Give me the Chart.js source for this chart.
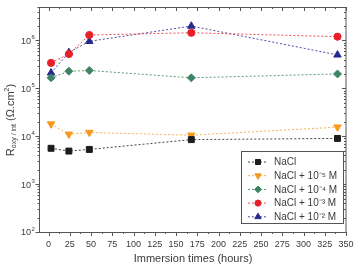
<!DOCTYPE html>
<html>
<head>
<meta charset="utf-8">
<script src="https://cdn.jsdelivr.net/npm/chart.js@4/dist/chart.umd.min.js"></script>
<style>
  html, body { margin: 0; padding: 0; background: #fff; }
  #wrap { width: 356px; height: 265px; }
</style>
</head>
<body>
<div id="wrap"><canvas id="c"></canvas></div>
<script>
// values
const hours = [3, 24, 48, 168, 340];
const nacl    = [5600, 4900, 5300, 8500, 9000];
const nacl1e5 = [18000, 11000, 12000, 10500, 15500];
const nacl1e4 = [166000, 228000, 236000, 166000, 200000];
const nacl1e3 = [340000, 520000, 1300000, 1450000, 1200000];
const nacl1e2 = [210000, 560000, 960000, 2000000, 500000];

const seriesNames = ['NaCl', 'NaCl + 10⁻⁵ M', 'NaCl + 10⁻⁴ M', 'NaCl + 10⁻³ M', 'NaCl + 10⁻² M'];
const xTicks = [0, 25, 50, 75, 100, 125, 150, 175, 200, 225, 250, 275, 300, 325, 350];
const yExps = [2, 3, 4, 5, 6];

const FONT = '"Liberation Sans", Arial, sans-serif';
const TXT = '#3a3a3a';

function ds(label, data, color, lineColor, style, rot, r) {
  return {
    label: label, data: data.map((v, i) => ({ x: hours[i], y: v })),
    borderColor: lineColor, backgroundColor: color,
    pointBackgroundColor: color, pointBorderColor: color,
    pointStyle: style, pointRotation: rot, pointRadius: r, pointBorderWidth: 1,
    borderWidth: 1, borderDash: [2, 2], tension: 0
  };
}

// frame, ticks, tick labels, titles, legend
const decor = {
  id: 'decor',
  afterDraw(chart) {
    const ctx = chart.ctx, a = chart.chartArea;
    const xs = chart.scales.x, ys = chart.scales.y;
    ctx.save();
    ctx.strokeStyle = '#555';
    ctx.lineWidth = 1;
    ctx.strokeRect(a.left - 0.5, a.top + 0.5, a.right - a.left + 0.5, a.bottom - a.top);

    ctx.beginPath();
    // x ticks: major at labels, minor halfway
    xTicks.forEach(v => {
      const px = Math.round(xs.getPixelForValue(v)) + 0.5;
      ctx.moveTo(px, a.bottom); ctx.lineTo(px, a.bottom + 4);
      ctx.moveTo(px, a.top); ctx.lineTo(px, a.top + 4);
      if (v < 350) {
        const pm = Math.round(xs.getPixelForValue(v + 12.5)) + 0.5;
        ctx.moveTo(pm, a.bottom); ctx.lineTo(pm, a.bottom + 2);
        ctx.moveTo(pm, a.top); ctx.lineTo(pm, a.top + 2);
      }
    });
    // y ticks: decades and minor
    for (let e = 2; e <= 6; e++) {
      for (let m = 1; m <= 9; m++) {
        const v = m * Math.pow(10, e);
        if (v > ys.max) break;
        const py = Math.round(ys.getPixelForValue(v)) + 0.5;
        const len = m === 1 ? 4 : 2;
        ctx.moveTo(a.left - 0.5, py); ctx.lineTo(a.left - 0.5 - len, py);
        ctx.moveTo(a.right, py); ctx.lineTo(a.right - len, py);
      }
    }
    ctx.stroke();

    // x tick labels
    ctx.fillStyle = TXT;
    ctx.font = '9px ' + FONT;
    ctx.textAlign = 'center';
    ctx.textBaseline = 'middle';
    xTicks.forEach(v => ctx.fillText(String(v), xs.getPixelForValue(v), a.bottom + 13));

    // y tick labels 10^n
    yExps.forEach(e => {
      const py = ys.getPixelForValue(Math.pow(10, e));
      ctx.font = '9px ' + FONT;
      ctx.textAlign = 'right';
      ctx.fillText('10', 31, py + 1);
      ctx.font = '6px ' + FONT;
      ctx.textAlign = 'left';
      ctx.fillText(String(e), 31.5, py - 3);
    });

    // x title
    ctx.font = '11px ' + FONT;
    ctx.textAlign = 'center';
    ctx.fillText('Immersion times (hours)', (a.left + a.right) / 2, 259);

    // y title, rotated
    ctx.save();
    ctx.translate(11, 120);
    ctx.rotate(-Math.PI / 2);
    const parts = [
      ['R', '11px', 0], ['oxy / int', '7px', 3], [' (Ω.cm', '11px', 0], ['2', '7px', -4], [')', '11px', 0]
    ];
    let w = 0;
    parts.forEach(p => { ctx.font = p[1] + ' ' + FONT; w += ctx.measureText(p[0]).width; });
    let x0 = -w / 2;
    ctx.textAlign = 'left';
    parts.forEach(p => {
      ctx.font = p[1] + ' ' + FONT;
      ctx.fillText(p[0], x0, p[2]);
      x0 += ctx.measureText(p[0]).width;
    });
    ctx.restore();

    // legend
    const lx = 241, ly = 151, lw = 102, lh = 72;
    ctx.fillStyle = '#fff';
    ctx.fillRect(lx, ly, lw, lh);
    ctx.strokeStyle = '#555';
    ctx.strokeRect(lx + 0.5, ly + 0.5, lw, lh);
    chart.data.datasets.forEach((d, i) => {
      const cy = ly + 11 + i * 13.7;
      ctx.strokeStyle = d.borderColor;
      ctx.setLineDash([2, 2]);
      ctx.beginPath();
      ctx.moveTo(lx + 7, cy); ctx.lineTo(lx + 27, cy);
      ctx.stroke();
      ctx.setLineDash([]);
      ctx.fillStyle = d.pointBackgroundColor;
      ctx.strokeStyle = d.pointBorderColor;
      Chart.helpers.drawPoint(ctx, {
        pointStyle: d.pointStyle, rotation: d.pointRotation,
        radius: d.pointRadius * 0.85, borderWidth: 1
      }, lx + 17, cy);
      ctx.fillStyle = TXT;
      ctx.font = '10px ' + FONT;
      ctx.textAlign = 'left';
      ctx.textBaseline = 'middle';
      ctx.fillText(d.label, lx + 33, cy + 0.5);
    });
    ctx.restore();
  }
};

new Chart(document.getElementById('c'), {
  type: 'line',
  data: {
    datasets: [
      ds(seriesNames[0], nacl,    '#1c1c1c', '#444444', 'rect', 0, 4.2),
      ds(seriesNames[1], nacl1e5, '#f59a1e', '#f5b050', 'triangle', 180, 4.3),
      ds(seriesNames[2], nacl1e4, '#3f8465', '#5a9a7a', 'rectRot', 0, 4),
      ds(seriesNames[3], nacl1e3, '#e8202a', '#e85058', 'circle', 0, 3.6),
      ds(seriesNames[4], nacl1e2, '#262a8c', '#4a4ea0', 'triangle', 0, 4.3)
    ]
  },
  options: {
    responsive: true,
    maintainAspectRatio: false,
    animation: false,
    layout: { padding: { left: 40, right: 10, top: 7, bottom: 33 } },
    plugins: { legend: { display: false }, tooltip: { enabled: false } },
    scales: {
      x: { type: 'linear', min: -10, max: 350, display: false },
      y: { type: 'logarithmic', min: 100, max: 5000000, display: false }
    }
  },
  plugins: [decor]
});
</script>
</body>
</html>
